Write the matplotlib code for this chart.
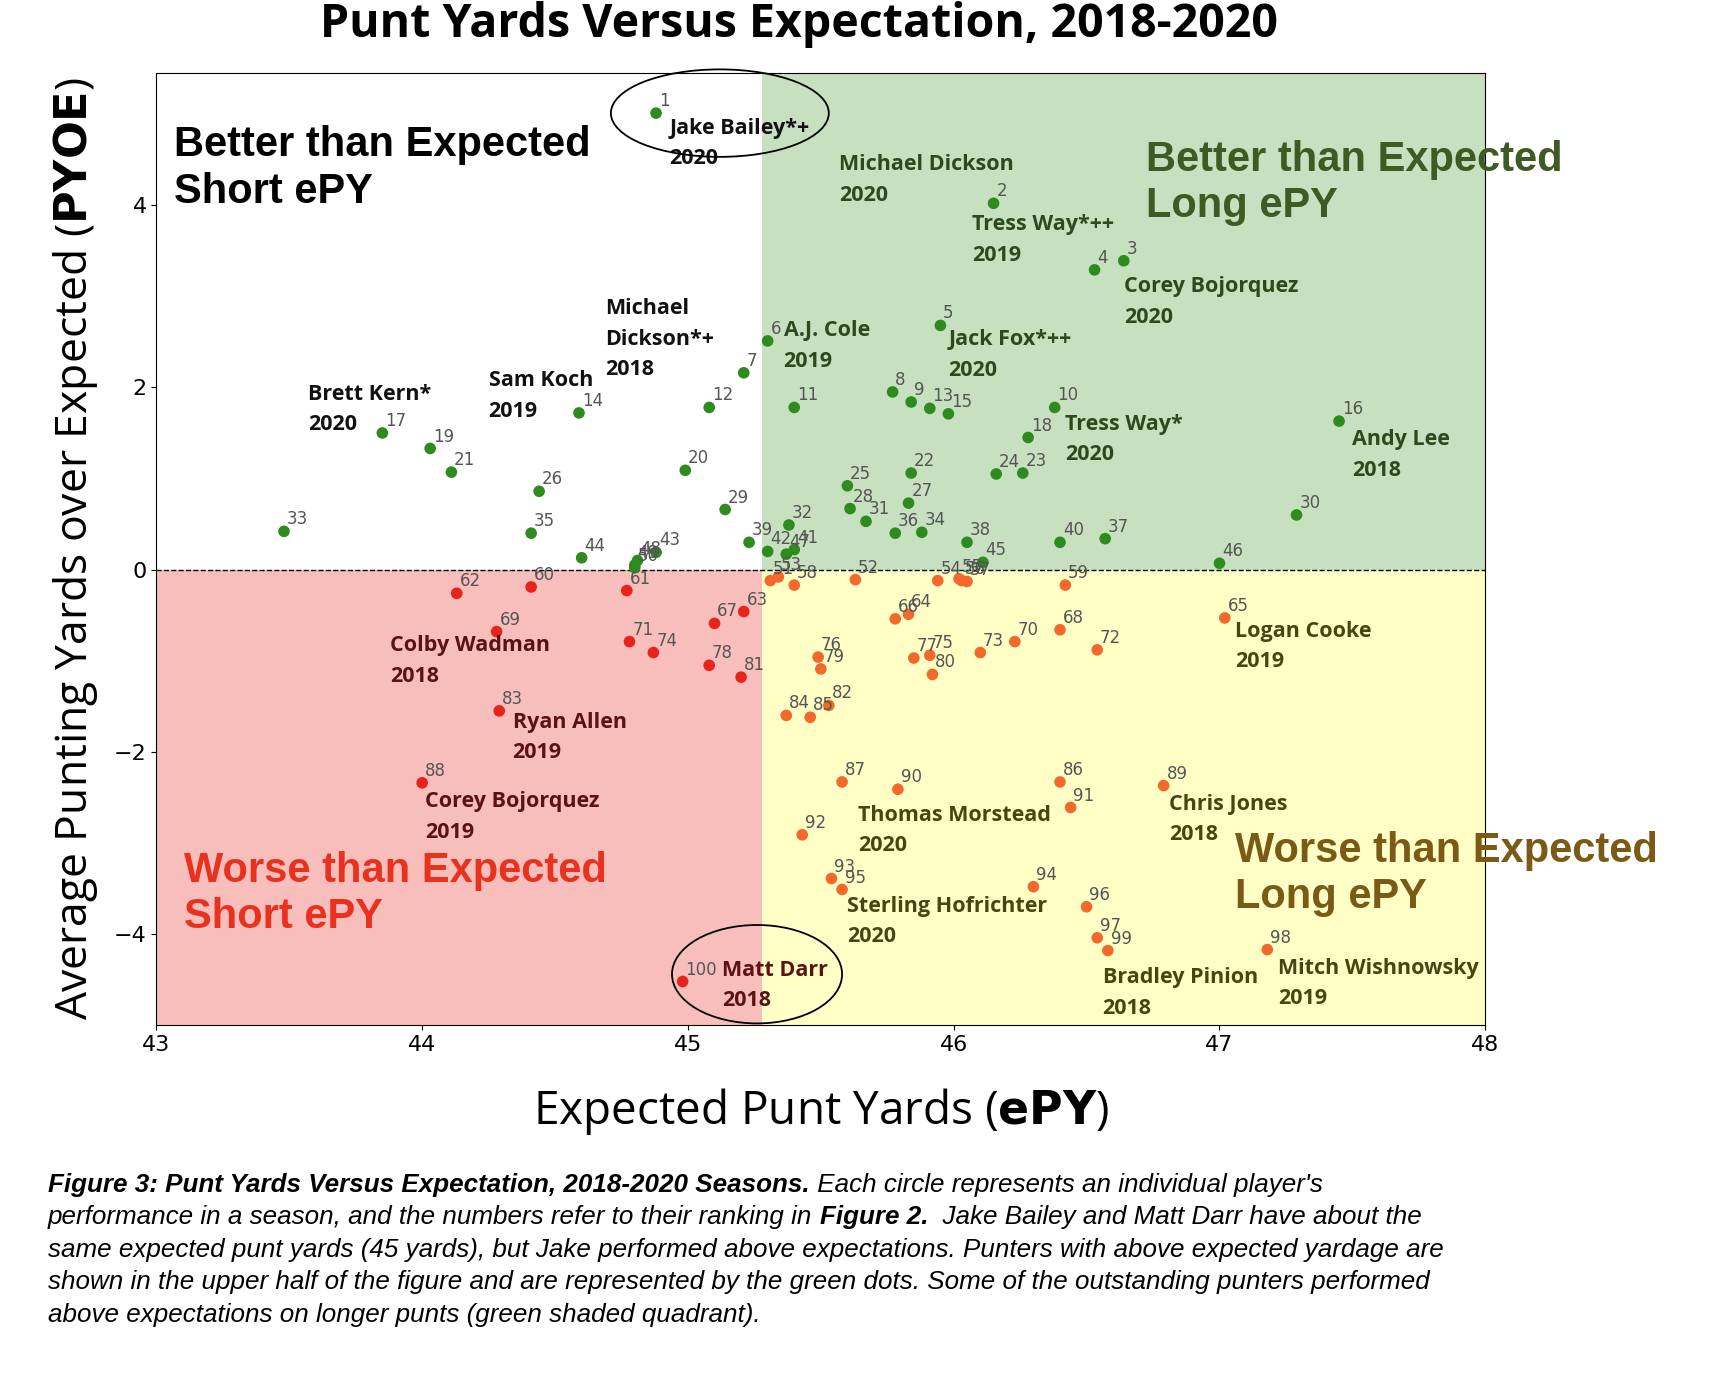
import matplotlib
matplotlib.use("Agg")
import matplotlib.pyplot as plt
from matplotlib.patches import Rectangle, Ellipse

rank = list(range(1, 101))
epy = [44.88,46.15,46.64,46.53,45.95,45.30,45.21,45.77,45.84,46.38,
       45.40,45.08,45.91,44.59,45.98,47.45,43.85,46.28,44.03,44.99,
       44.11,45.84,46.26,46.16,45.60,44.44,45.83,45.61,45.14,47.29,
       45.67,45.38,43.48,45.88,44.41,45.78,46.57,46.05,45.23,46.40,
       45.40,45.30,44.88,44.60,46.11,47.00,45.37,44.81,44.80,44.80,
       45.31,45.63,45.34,45.94,46.02,46.03,46.05,45.40,46.42,44.41,
       44.77,44.13,45.21,45.83,47.02,45.78,45.10,46.40,44.28,46.23,
       44.78,46.54,46.10,44.87,45.91,45.49,45.85,45.08,45.50,45.92,
       45.20,45.53,44.29,45.37,45.46,46.40,45.58,44.00,46.79,45.79,
       46.44,45.43,45.54,46.30,45.58,46.50,46.54,47.18,46.58,44.98]
pyoe = [5.01,4.02,3.39,3.29,2.68,2.51,2.16,1.95,1.84,1.78,
        1.78,1.78,1.77,1.72,1.71,1.63,1.50,1.45,1.33,1.09,
        1.07,1.06,1.06,1.05,0.92,0.86,0.73,0.67,0.66,0.60,
        0.53,0.49,0.42,0.41,0.40,0.40,0.34,0.30,0.30,0.30,
        0.22,0.20,0.19,0.13,0.08,0.07,0.17,0.10,0.05,0.02,
        -0.12,-0.11,-0.08,-0.12,-0.10,-0.12,-0.13,-0.17,-0.17,-0.19,
        -0.23,-0.26,-0.46,-0.49,-0.53,-0.54,-0.59,-0.66,-0.68,-0.79,
        -0.79,-0.88,-0.91,-0.91,-0.94,-0.96,-0.97,-1.05,-1.09,-1.15,
        -1.18,-1.49,-1.55,-1.60,-1.62,-2.33,-2.33,-2.34,-2.37,-2.41,
        -2.61,-2.91,-3.39,-3.48,-3.51,-3.70,-4.04,-4.17,-4.18,-4.52]

name_labels = ["Jake Bailey*+\n2020", "Michael Dickson\n2020", "Tress Way*++\n2019",
               "Corey Bojorquez\n2020", "Jack Fox*++\n2020", "A.J. Cole\n2019",
               "Michael\nDickson*+\n2018", "Sam Koch\n2019", "Brett Kern*\n2020",
               "Tress Way*\n2020", "Andy Lee\n2018", "Logan Cooke\n2019",
               "Colby Wadman\n2018", "Ryan Allen\n2019", "Corey Bojorquez\n2019",
               "Chris Jones\n2018", "Thomas Morstead\n2020", "Sterling Hofrichter\n2020",
               "Bradley Pinion\n2018", "Mitch Wishnowsky\n2019", "Matt Darr\n2018"]
name_x = [44.93,45.57,46.07,46.64,45.98,45.36,44.69,44.25,43.57,46.42,47.50,
          47.06,43.88,44.34,44.01,46.81,45.64,45.60,46.56,47.22,45.13]
name_y = [4.96,4.56,3.90,3.22,2.64,2.74,2.98,2.19,2.04,1.71,1.54,
          -0.56,-0.72,-1.56,-2.43,-2.46,-2.58,-3.58,-4.36,-4.26,-4.28]

XSPLIT = 45.28
fig = plt.figure(figsize=(17.19, 13.78), dpi=100)
ax = fig.add_axes([0.091, 0.256, 0.773, 0.691])
ax.set_xlim(43, 48)
ax.set_ylim(-5, 5.45)

ax.add_patch(Rectangle((XSPLIT, 0), 48 - XSPLIT, 5.45, color="#c6e0c0", zorder=0, lw=0))
ax.add_patch(Rectangle((XSPLIT, -5), 48 - XSPLIT, 5, color="#ffffc6", zorder=0, lw=0))
ax.add_patch(Rectangle((43, -5), XSPLIT - 43, 5, color="#f7bebb", zorder=0, lw=0))
ax.axhline(0, color="black", ls="--", lw=1, zorder=1)

cols = []
for x, y in zip(epy, pyoe):
    if y >= 0:
        cols.append("#2e8b1e")
    elif x < XSPLIT:
        cols.append("#e8231a")
    else:
        cols.append("#f5682c")
ax.scatter(epy, pyoe, s=70, c=cols, zorder=3, edgecolors="none")
for r, x, y in zip(rank, epy, pyoe):
    ax.annotate(str(r), (x, y), xytext=(2, 5), textcoords="offset points",
                fontsize=12, color="#555555", zorder=4)

for t, x, y in zip(name_labels, name_x, name_y):
    if y >= 0:
        c = "#2d4a1d" if x >= XSPLIT else "#111111"
    else:
        c = "#4a4510" if x >= XSPLIT else "#5a1212"
    ax.text(x, y, t, fontsize=15.5, fontweight="bold", family="Open Sans", color=c,
            va="top", ha="left", linespacing=1.6, zorder=5)

qfs = 30
ax.text(0.013, 0.945, "Better than Expected\nShort ePY", transform=ax.transAxes,
        fontsize=qfs, fontweight="bold", family="Liberation Sans", color="black", va="top")
ax.text(0.745, 0.93, "Better than Expected\nLong ePY", transform=ax.transAxes,
        fontsize=qfs, fontweight="bold", family="Liberation Sans", color="#3f5a25", va="top")
ax.text(0.021, 0.183, "Worse than Expected\nShort ePY", transform=ax.transAxes,
        fontsize=qfs, fontweight="bold", family="Liberation Sans", color="#e8321e", va="top")
ax.text(0.812, 0.204, "Worse than Expected\nLong ePY", transform=ax.transAxes,
        fontsize=qfs, fontweight="bold", family="Liberation Sans", color="#7a5a14", va="top",
        clip_on=False, zorder=6)

ax.add_patch(Ellipse((45.12, 5.01), 0.82, 0.96, fill=False, ec="black", lw=1.3, zorder=6, clip_on=False))
ax.add_patch(Ellipse((45.26, -4.44), 0.64, 1.08, fill=False, ec="black", lw=1.3, zorder=6, clip_on=False))

ax.set_xticks([43, 44, 45, 46, 47, 48])
ax.set_yticks([-4, -2, 0, 2, 4])
ax.tick_params(labelsize=16)
ax.set_xlabel("Expected Punt Yards ($\\bf{ePY}$)", fontsize=33, family="Open Sans", labelpad=22)
ax.set_ylabel("Average Punting Yards over Expected ($\\bf{PYOE}$)", fontsize=32,
              family="Open Sans", labelpad=10)
fig.text(0.465, 0.982, "Punt Yards Versus Expectation, 2018-2020", fontsize=33.5,
         fontweight="bold", family="Open Sans", ha="center", va="center")

runs_lines = [
    [("Figure 3: Punt Yards Versus Expectation, 2018-2020 Seasons.", "bold"),
     (" Each circle represents an individual player's", "normal")],
    [("performance in a season, and the numbers refer to their ranking in ", "normal"),
     ("Figure 2.", "bold"), ("  Jake Bailey and Matt Darr have about the", "normal")],
    [("same expected punt yards (45 yards), but Jake performed above expectations. Punters with above expected yardage are", "normal")],
    [("shown in the upper half of the figure and are represented by the green dots. Some of the outstanding punters performed", "normal")],
    [("above expectations on longer punts (green shaded quadrant).", "normal")],
]
fig.canvas.draw()
r = fig.canvas.get_renderer()
y0 = 0.14
for i, runs in enumerate(runs_lines):
    x = 0.028
    y = y0 - i * 0.0235
    for s, w in runs:
        t = fig.text(x, y, s, fontsize=18.7, style="italic", fontweight=w,
                     family="Liberation Sans", va="center", ha="left")
        bb = t.get_window_extent(renderer=r)
        x += bb.width / fig.bbox.width

fig.savefig("out.png", dpi=100)
